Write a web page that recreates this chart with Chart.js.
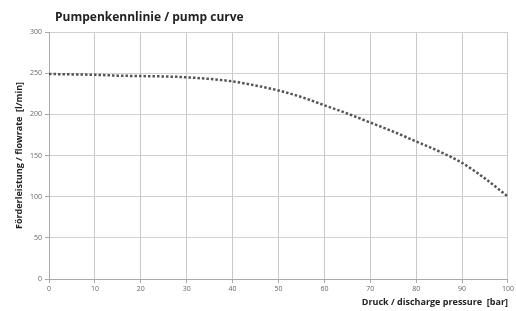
<!DOCTYPE html>
<html>
<head>
<meta charset="utf-8">
<script src="https://cdn.jsdelivr.net/npm/chart.js@4/dist/chart.umd.min.js"></script>
<style>
  html, body { margin: 0; padding: 0; background: #fff; }
  #wrap { width: 516px; height: 311px; position: relative; }
</style>
</head>
<body>
<div id="wrap"><canvas id="pump-chart"></canvas></div>
<script>
// pressure [bar] and flow rate [l/min]
var pressure = [0, 5, 10, 15, 20, 25, 30, 35, 40, 45, 50, 55, 60, 65, 70, 75, 80, 85, 90, 95, 100];
var flowrate = [249, 248.5, 248, 247, 246.5, 246, 245, 243, 240, 235, 229, 221, 211, 201, 190, 179, 167, 155, 141, 122, 100];
var xTicks = [0, 10, 20, 30, 40, 50, 60, 70, 80, 90, 100];
var yTicks = [0, 50, 100, 150, 200, 250, 300];

var titleText = "Pumpenkennlinie / pump curve";

var points = [];
for (var i = 0; i < pressure.length; i++) {
    points.push({x: pressure[i], y: flowrate[i]});
}

var titlePlugin = {
    id: 'leftTitle',
    afterDraw: function(chart) {
        var ctx = chart.ctx;
        ctx.save();
        ctx.font = "bold 12px 'Open Sans'";
        ctx.fillStyle = "#222";
        ctx.textBaseline = "middle";
        ctx.fillText(titleText, 55, 18);
        ctx.restore();
    }
};

var config = {
    type: 'line',
    data: {
        datasets: [{
            data: points,
            borderColor: "#555",
            borderWidth: 2.5,
            borderDash: [2.5, 2],
            pointRadius: 0,
            cubicInterpolationMode: 'monotone',
            fill: false
        }]
    },
    options: {
        responsive: true,
        maintainAspectRatio: false,
        animation: false,
        layout: { padding: { top: 32, right: 7, left: 0, bottom: 0 } },
        plugins: {
            legend: { display: false },
            tooltip: { enabled: false }
        },
        scales: {
            x: {
                type: 'linear',
                min: 0,
                max: 100,
                afterBuildTicks: function(s) { s.ticks = xTicks.map(function(v) { return {value: v}; }); },
                afterFit: function(s) { s.height = 32; },
                grid: { color: "#c8c8c8", tickLength: 4, tickColor: "#aaa" },
                border: { color: "#aaa" },
                ticks: { color: "#666", font: { size: 7, family: "'Open Sans'" }, padding: 2, maxRotation: 0 },
                title: {
                    display: true,
                    text: "Druck / discharge pressure  [bar]",
                    align: 'end',
                    color: "#222",
                    font: { size: 9, weight: 'bold', family: "'Open Sans'" },
                    padding: { top: 0, bottom: 3 }
                }
            },
            y: {
                min: 0,
                max: 300,
                afterBuildTicks: function(s) { s.ticks = yTicks.map(function(v) { return {value: v}; }); },
                afterFit: function(s) { s.width = 49; },
                grid: { color: "#d0d0d0", tickLength: 4, tickColor: "#aaa" },
                border: { color: "#aaa" },
                ticks: { color: "#666", font: { size: 7, family: "'Open Sans'" }, padding: 3 },
                title: {
                    display: true,
                    text: "Förderleistung / flowrate  [l/min]",
                    color: "#222",
                    font: { size: 9, weight: 'bold', family: "'Open Sans'" },
                    padding: { top: 14, bottom: 0 }
                }
            }
        }
    },
    plugins: [titlePlugin]
};

var ctx = document.getElementById("pump-chart").getContext("2d");
window.pumpChart = new Chart(ctx, config);
</script>
</body>
</html>
